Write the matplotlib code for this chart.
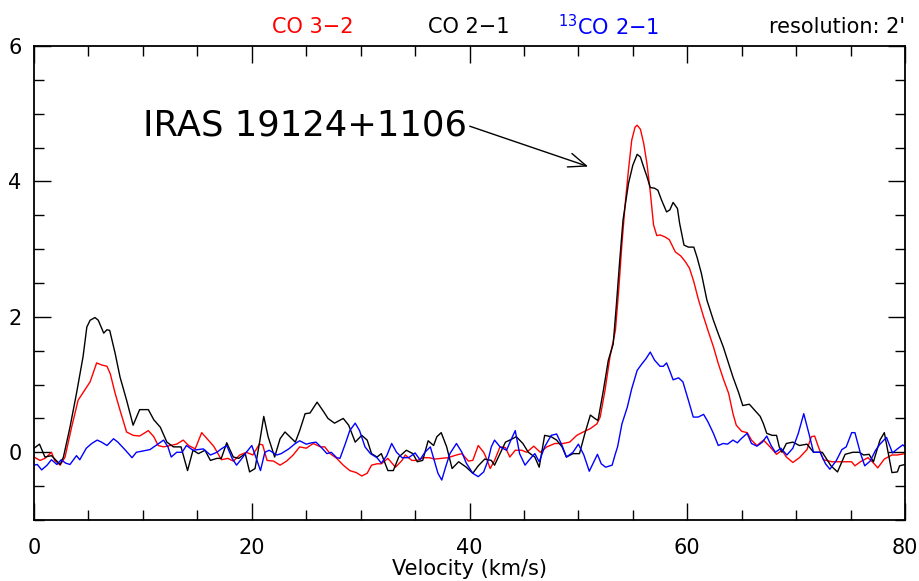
import numpy as np
import matplotlib
matplotlib.use("Agg")
from matplotlib import pyplot as plt
from matplotlib.ticker import MultipleLocator

# CO 3-2 spectrum (velocity km/s, T)
v_co32 = [0.0, 0.55, 1.0, 1.6, 1.9, 2.4, 2.85, 3.45, 4.05, 4.7,
          5.15, 5.75, 6.2, 6.7, 7.0, 7.45, 7.9, 8.5, 9.1, 9.7,
          10.5, 11.0, 11.4, 11.9, 12.5, 13.1, 13.7, 14.2, 14.8, 15.4,
          15.9, 16.5, 16.9, 17.2, 17.8, 18.3, 18.9, 19.5, 20.1, 20.7,
          21.0, 21.4, 22.0, 22.6, 23.2, 23.8, 24.4, 25.0, 25.65, 26.3,
          26.7, 27.2, 27.8, 28.4, 29.0, 29.6, 30.1, 30.6, 31.0, 31.5,
          31.9, 32.5, 33.2, 33.8, 34.1, 34.7, 35.2, 35.75, 36.3, 36.8,
          37.4, 38.0, 38.8, 39.3, 39.9, 40.3, 40.8, 41.3, 41.5, 41.9,
          42.3, 42.8, 43.3, 43.7, 44.2, 44.8, 45.25, 45.9, 46.5, 47.1,
          47.85, 48.6, 49.2, 49.85, 50.45, 51.1, 51.7, 52.0, 52.45, 52.9,
          53.4, 53.7, 54.0, 54.3, 54.6, 54.9, 55.2, 55.4, 55.7, 56.0,
          56.3, 56.6, 56.9, 57.2, 57.5, 57.96, 58.35, 58.9, 59.4, 59.8,
          60.2, 60.6, 61.0, 61.5, 61.9, 62.4, 62.85, 63.3, 63.8, 64.2,
          64.5, 65.0, 65.5, 65.9, 66.4, 67.0, 67.6, 68.2, 68.7, 69.1,
          69.7, 70.3, 71.0, 71.4, 71.7, 72.0, 72.5, 73.3, 74.4, 75.1,
          75.4, 75.9, 76.6, 77.0, 77.5, 78.1, 78.8, 79.3, 80.0]
t_co32 = [-0.07, -0.12, -0.09, 0.0, -0.12, -0.19, -0.07, 0.37, 0.77, 0.93,
          1.04, 1.32, 1.29, 1.27, 1.16, 0.87, 0.62, 0.30, 0.25, 0.24,
          0.32, 0.23, 0.10, 0.08, 0.10, 0.12, 0.18, 0.10, 0.05, 0.29,
          0.20, 0.09, -0.02, -0.11, -0.09, -0.13, -0.04, 0.0, -0.04, 0.12,
          0.11, -0.12, -0.13, -0.19, -0.13, -0.04, 0.08, 0.06, 0.13, 0.08,
          0.08, -0.02, -0.09, -0.19, -0.27, -0.30, -0.35, -0.31, -0.19, -0.17,
          -0.17, -0.09, -0.22, -0.12, -0.04, -0.12, -0.12, -0.08, -0.08, -0.10,
          -0.09, -0.08, -0.04, -0.02, -0.13, -0.12, 0.10, 0.0, -0.07, -0.24,
          -0.12, 0.08, 0.07, -0.07, 0.03, 0.03, 0.0, 0.09, 0.0, 0.08,
          0.13, 0.13, 0.15, 0.25, 0.30, 0.35, 0.42, 0.52, 0.92, 1.41,
          1.80, 2.39, 3.08, 3.67, 4.17, 4.61, 4.80, 4.83, 4.77, 4.56,
          4.26, 3.85, 3.36, 3.20, 3.21, 3.18, 3.14, 2.96, 2.90, 2.82,
          2.72, 2.52, 2.27, 2.00, 1.80, 1.56, 1.31, 1.09, 0.87, 0.57,
          0.40, 0.31, 0.29, 0.18, 0.10, 0.18, 0.08, -0.03, 0.03, -0.07,
          -0.15, -0.08, 0.04, 0.23, 0.24, 0.10, -0.11, -0.14, -0.14, -0.14,
          -0.20, -0.14, -0.08, -0.14, -0.23, -0.10, -0.04, -0.04, -0.02]

# CO 2-1 spectrum
v_co21 = [0.0, 0.5, 1.0, 1.6, 2.4, 2.7, 3.3, 3.9, 4.5, 4.85,
          5.15, 5.6, 5.9, 6.4, 6.7, 6.95, 7.45, 7.9, 8.5, 9.1,
          9.7, 10.5, 11.0, 11.6, 12.2, 12.8, 13.5, 14.1, 14.6, 15.1,
          15.7, 16.2, 16.8, 17.2, 17.7, 18.3, 18.8, 19.4, 19.8, 20.3,
          20.75, 21.1, 21.5, 22.1, 22.6, 23.05, 24.0, 24.4, 24.9, 25.35,
          26.0, 26.6, 27.0, 27.6, 28.4, 28.9, 29.5, 30.1, 30.6, 31.0,
          31.5, 31.9, 32.5, 33.0, 33.5, 34.2, 34.8, 35.2, 35.7, 36.2,
          36.7, 37.0, 37.4, 37.9, 38.4, 39.0, 39.7, 40.3, 40.8, 41.4,
          42.0, 42.3, 42.8, 43.3, 43.7, 44.3, 44.9, 45.4, 46.0, 46.4,
          46.9, 47.5, 48.0, 48.5, 48.9, 49.5, 50.1, 50.6, 51.1, 51.5,
          51.8, 52.3, 52.75, 53.2, 53.5, 53.8, 54.1, 54.6, 55.0, 55.4,
          55.7, 56.0, 56.3, 56.6, 57.0, 57.3, 57.65, 58.1, 58.4, 58.7,
          59.1, 59.3, 59.7, 60.1, 60.6, 60.9, 61.3, 61.8, 62.4, 62.85,
          63.3, 63.8, 64.2, 64.7, 65.1, 65.7, 66.2, 66.7, 67.0, 67.3,
          67.8, 68.2, 68.45, 68.7, 69.1, 69.7, 70.3, 71.0, 71.6, 72.4,
          73.2, 73.8, 74.5, 75.2, 75.8, 76.2, 76.7, 77.1, 77.7, 78.1,
          78.5, 78.8, 79.3, 79.5, 80.0]
t_co21 = [0.06, 0.12, -0.07, -0.05, -0.18, -0.07, 0.37, 0.87, 1.41, 1.85,
          1.95, 1.99, 1.95, 1.76, 1.81, 1.80, 1.46, 1.11, 0.77, 0.40,
          0.63, 0.63, 0.48, 0.37, 0.15, 0.08, 0.08, -0.27, 0.03, -0.02,
          0.03, -0.12, -0.09, -0.09, 0.14, -0.07, -0.09, -0.02, -0.29, -0.24,
          0.18, 0.53, 0.23, -0.07, 0.20, 0.30, 0.15, 0.32, 0.57, 0.58,
          0.74, 0.60, 0.50, 0.43, 0.50, 0.40, 0.15, 0.25, 0.18, -0.02,
          -0.07, -0.02, -0.27, -0.27, -0.07, 0.03, -0.02, -0.14, -0.12, 0.17,
          0.10, 0.23, 0.29, 0.08, -0.24, -0.14, -0.22, -0.31, -0.20, -0.10,
          -0.12, -0.19, -0.02, 0.15, 0.18, 0.23, 0.13, 0.0, -0.07, -0.22,
          0.25, 0.23, 0.18, 0.08, -0.07, -0.02, -0.02, 0.28, 0.55, 0.50,
          0.47, 0.92, 1.36, 1.60, 2.20, 2.84, 3.43, 3.97, 4.24, 4.40,
          4.36, 4.21, 4.07, 3.91, 3.90, 3.87, 3.72, 3.55, 3.58, 3.69,
          3.60, 3.38, 3.06, 3.03, 3.03, 2.88, 2.64, 2.25, 1.95, 1.75,
          1.56, 1.31, 1.11, 0.89, 0.69, 0.71, 0.62, 0.53, 0.42, 0.28,
          0.25, 0.25, 0.08, 0.0, 0.13, 0.15, 0.10, 0.12, 0.0, 0.0,
          -0.20, -0.29, -0.03, 0.0, 0.0, -0.04, -0.03, -0.14, 0.18, 0.29,
          -0.05, -0.30, -0.29, -0.20, -0.18]

# 13CO 2-1 spectrum
v_13co = [0.0, 0.3, 0.7, 1.2, 1.6, 2.1, 2.5, 2.9, 3.3, 3.9,
          4.2, 4.8, 5.3, 5.8, 6.2, 6.7, 7.3, 7.7, 8.4, 9.0,
          9.4, 10.0, 10.65, 11.1, 11.9, 12.3, 12.6, 13.1, 13.6, 14.0,
          14.6, 15.1, 15.55, 16.2, 16.8, 17.2, 17.7, 18.2, 18.6, 19.1,
          19.5, 20.0, 20.3, 20.8, 21.2, 21.6, 22.3, 22.7, 23.4, 24.0,
          24.4, 25.0, 25.5, 25.9, 26.4, 26.9, 27.3, 27.8, 28.1, 28.6,
          29.0, 29.5, 29.9, 30.4, 30.9, 31.5, 31.9, 32.4, 32.85, 33.3,
          33.8, 34.4, 35.0, 35.45, 35.9, 36.4, 36.8, 37.1, 37.45, 37.8,
          38.2, 38.8, 39.3, 39.7, 40.3, 40.8, 41.3, 41.7, 42.0, 42.3,
          42.8, 43.4, 43.8, 44.2, 44.6, 45.1, 45.6, 46.0, 46.4, 46.9,
          47.5, 48.0, 48.5, 48.9, 49.5, 50.0, 50.5, 51.0, 51.45, 51.75,
          52.1, 52.5, 53.1, 53.4, 53.6, 54.0, 54.5, 54.9, 55.4, 55.85,
          56.2, 56.6, 57.0, 57.5, 57.8, 58.1, 58.4, 58.7, 59.2, 59.6,
          60.1, 60.55, 61.0, 61.5, 61.9, 62.4, 62.85, 63.3, 63.7, 64.2,
          64.6, 64.95, 65.5, 65.9, 66.4, 66.9, 67.3, 67.7, 68.1, 68.6,
          69.15, 69.7, 70.2, 70.7, 71.2, 71.6, 72.2, 72.7, 73.1, 73.7,
          74.2, 74.6, 75.1, 75.4, 75.9, 76.3, 76.8, 77.3, 77.7, 78.3,
          78.85, 79.3, 79.8, 80.0]
t_13co = [-0.19, -0.18, -0.26, -0.19, -0.11, -0.18, -0.11, -0.16, -0.18, -0.05,
          -0.11, 0.06, 0.13, 0.18, 0.15, 0.10, 0.20, 0.15, 0.03, -0.08,
          0.0, 0.02, 0.04, 0.09, 0.18, 0.08, -0.07, 0.0, 0.0, 0.10,
          0.03, 0.04, 0.05, -0.04, 0.0, 0.05, 0.10, -0.09, -0.19, -0.09,
          0.0, 0.10, -0.04, -0.27, 0.0, 0.03, -0.04, -0.02, 0.05, 0.13,
          0.17, 0.12, 0.14, 0.15, 0.07, -0.02, 0.0, -0.08, -0.09, 0.13,
          0.32, 0.43, 0.32, 0.08, -0.02, -0.08, -0.16, -0.05, 0.13, 0.0,
          -0.08, -0.08, -0.01, -0.11, 0.0, 0.08, -0.14, -0.31, -0.41, -0.22,
          -0.02, 0.13, 0.0, -0.16, -0.31, -0.36, -0.29, -0.12, 0.08, 0.18,
          0.08, 0.03, 0.18, 0.32, -0.02, -0.19, -0.09, -0.02, -0.14, 0.08,
          0.25, 0.27, 0.10, -0.07, 0.0, 0.12, -0.04, -0.28, -0.13, -0.03,
          -0.17, -0.22, -0.19, -0.02, 0.08, 0.42, 0.67, 0.94, 1.21, 1.31,
          1.38, 1.48, 1.36, 1.27, 1.27, 1.32, 1.20, 1.07, 1.10, 1.04,
          0.77, 0.52, 0.52, 0.56, 0.45, 0.28, 0.10, 0.13, 0.12, 0.18,
          0.14, 0.20, 0.28, 0.13, 0.09, 0.15, 0.24, 0.10, 0.0, 0.06,
          -0.04, 0.06, 0.28, 0.57, 0.26, 0.0, 0.0, -0.17, -0.25, -0.12,
          0.04, 0.08, 0.29, 0.29, -0.01, -0.20, -0.13, 0.03, 0.12, 0.22,
          -0.01, 0.05, 0.11, 0.08]

source_name = "IRAS 19124+1106"
line_names = ["CO 3\u22122", "CO 2\u22121", "$^{13}$CO 2\u22121"]
line_colors = ["red", "black", "blue"]

plt.rcParams["font.family"] = ["DejaVu Sans"]
plt.rcParams["mathtext.default"] = "regular"

fig = plt.figure(figsize=(9.2, 5.81), dpi=100)
ax = fig.add_axes([0.037, 0.105, 0.9467, 0.8158])

for v, t, c in zip([v_co32, v_co21, v_13co], [t_co32, t_co21, t_13co], line_colors):
    ax.plot(v, t, color=c, lw=1.0)

ax.set_xlim(0, 80)
ax.set_ylim(-1, 6)
ax.xaxis.set_major_locator(MultipleLocator(20))
ax.xaxis.set_minor_locator(MultipleLocator(5))
ax.yaxis.set_major_locator(MultipleLocator(2))
ax.yaxis.set_minor_locator(MultipleLocator(0.5))
ax.tick_params(which="both", direction="in", top=True, right=True,
               width=1.0, labelsize=15, color="black")
ax.tick_params(which="major", length=12)
ax.tick_params(which="minor", length=7)
ax.tick_params(axis="x", pad=13)
ax.tick_params(axis="y", pad=9)
for s in ax.spines.values():
    s.set_linewidth(1.3)

ax.set_xlabel("Velocity (km/s)", fontsize=15, labelpad=1)

ax.annotate(source_name, xy=(50.9, 4.22), xytext=(10.0, 4.83),
            fontsize=25.5, ha="left", va="center",
            arrowprops=dict(arrowstyle="->,head_length=0.5,head_width=0.2",
                            lw=1.0, color="black",
                            shrinkA=0, shrinkB=0, relpos=(1.0, 0.5)))

# line labels above the frame
label_x = [272, 428, 558]
for name, c, px in zip(line_names, line_colors, label_x):
    fig.text(px / 920, 1 - 27 / 581, name, color=c, fontsize=15,
             ha="left", va="center")
fig.text(905 / 920, 1 - 27 / 581, "resolution: 2'", color="black",
         fontsize=15, ha="right", va="center")

fig.savefig("out.png", dpi=100)
